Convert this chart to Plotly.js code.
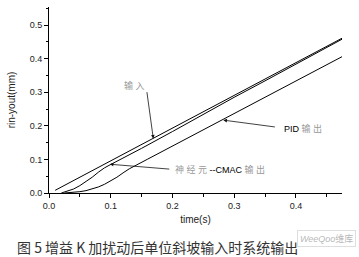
<!DOCTYPE html>
<html><head><meta charset="utf-8">
<script src="https://cdn.plot.ly/plotly-3.0.1.min.js"></script>
<style>html,body{margin:0;padding:0;background:#fff}#chart{width:359px;height:257px}</style>
</head><body><div id="chart"></div>
<script>
// Data
var inputT = [0.010, 0.4747];
var inputY = [0.008, 0.461];

var cmacT = [0.020, 0.030, 0.040, 0.050, 0.060, 0.070, 0.080, 0.090, 0.100, 0.120, 0.150, 0.200, 0.250, 0.300, 0.350, 0.400, 0.4747];
var cmacY = [0.000, 0.005, 0.012, 0.022, 0.034, 0.047, 0.062, 0.075, 0.085, 0.104, 0.133, 0.183, 0.235, 0.285, 0.334, 0.384, 0.458];

var pidT = [0.025, 0.040, 0.050, 0.060, 0.070, 0.080, 0.090, 0.100, 0.110, 0.120, 0.130, 0.160, 0.200, 0.250, 0.300, 0.350, 0.400, 0.4747];
var pidY = [0.000, 0.002, 0.004, 0.007, 0.012, 0.018, 0.026, 0.036, 0.047, 0.060, 0.072, 0.101, 0.140, 0.188, 0.236, 0.285, 0.334, 0.406];

var xTicks = [0, 0.1, 0.2, 0.3, 0.4];
var xTickText = ['0.0', '0.1', '0.2', '0.3', '0.4'];
var yTicks = [0, 0.1, 0.2, 0.3, 0.4, 0.5];
var yTickText = ['0.0', '0.1', '0.2', '0.3', '0.4', '0.5'];

var xTitle = 'time(s)';
var yTitle = 'rin-yout(mm)';
var caption = '图 5 增益 K 加扰动后单位斜坡输入时系统输出';

var F = 'Liberation Sans, Arial, Noto Sans CJK SC, sans-serif';
var line = {color: '#000', width: 1};

var traces = [
  {x: inputT, y: inputY, mode: 'lines', line: line, name: '输入'},
  {x: cmacT, y: cmacY, mode: 'lines', line: line, name: '神经元--CMAC输出'},
  {x: pidT, y: pidY, mode: 'lines', line: line, name: 'PID输出'}
];

var arrowStyle = {showarrow: true, arrowhead: 2, arrowsize: 0.9, arrowwidth: 0.8, arrowcolor: '#111', text: ''};

var annotations = [
  Object.assign({x: 0.169, y: 0.162, xref: 'x', yref: 'y', ax: -6.6, ay: -48}, arrowStyle),
  Object.assign({x: 0.2825, y: 0.217, xref: 'x', yref: 'y', ax: 53, ay: 7}, arrowStyle),
  Object.assign({x: 0.0985, y: 0.0857, xref: 'x', yref: 'y', ax: 61, ay: 5}, arrowStyle),
  {x: 0.139, y: 0.3215, xref: 'x', yref: 'y', showarrow: false, text: '输 入',
   font: {family: F, size: 9, color: '#999'}},
  {x: 0.4117, y: 0.193, xref: 'x', yref: 'y', showarrow: false,
   text: 'PID<span style="color:#999"> 输 出</span>', font: {family: F, size: 9, color: '#000'}},
  {x: 0.277, y: 0.0699, xref: 'x', yref: 'y', showarrow: false,
   text: '<span style="color:#999">神 经 元 </span>--CMAC<span style="color:#999"> 输 出</span>',
   font: {family: F, size: 9, color: '#000'}},
  {x: -0.117, y: -0.291, xref: 'paper', yref: 'paper', xanchor: 'left', yanchor: 'middle', showarrow: false,
   text: caption, font: {family: 'Noto Sans CJK SC, sans-serif', size: 14, color: '#333'}},
  {x: 1.048, y: -0.245, xref: 'paper', yref: 'paper', xanchor: 'right', yanchor: 'middle', showarrow: false,
   text: '<i>WeeQoo</i>维库', font: {family: F, size: 9, color: 'rgba(150,150,150,0.7)'},
   bordercolor: 'rgba(200,200,200,0.6)', borderwidth: 1, borderpad: 2, bgcolor: 'rgba(255,255,255,0.4)'}
];

var axisCommon = {
  showgrid: false, zeroline: false, showline: true, linecolor: '#000', linewidth: 1,
  ticks: 'outside', ticklen: 4, tickwidth: 1, tickcolor: '#000',
  tickfont: {family: F, size: 9, color: '#222'}, tickmode: 'array'
};

var layout = {
  width: 359, height: 257,
  margin: {l: 49.3, r: 17.3, t: 7.3, b: 64.3, pad: 0},
  paper_bgcolor: '#fff', plot_bgcolor: '#fff',
  showlegend: false,
  xaxis: Object.assign({}, axisCommon, {
    range: [0, 0.4747], tickvals: xTicks, ticktext: xTickText,
    minor: {tickvals: [0.05, 0.15, 0.25, 0.35, 0.45], ticks: 'outside', ticklen: 2.5, tickwidth: 1, tickcolor: '#000'},
    title: {text: xTitle, font: {family: F, size: 10, color: '#222'}, standoff: 6}
  }),
  yaxis: Object.assign({}, axisCommon, {
    range: [0, 0.554], tickvals: yTicks, ticktext: yTickText,
    minor: {tickvals: [0.05, 0.15, 0.25, 0.35, 0.45, 0.55], ticks: 'outside', ticklen: 2.5, tickwidth: 1, tickcolor: '#000'},
    title: {text: yTitle, font: {family: F, size: 10, color: '#222'}, standoff: 12}
  }),
  annotations: annotations
};

Plotly.newPlot('chart', traces, layout, {displayModeBar: false, staticPlot: true});
</script></body></html>
